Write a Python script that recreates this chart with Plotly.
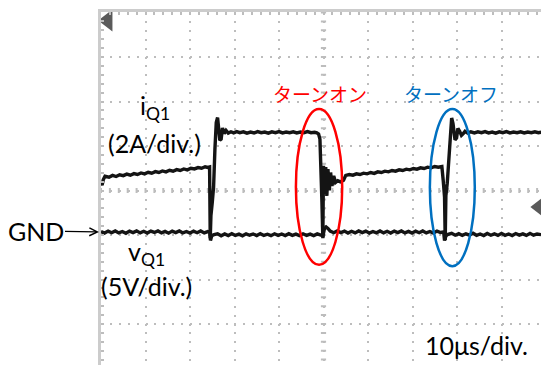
import plotly.graph_objects as go

# ---- scope settings -------------------------------------------------------
TIME_PER_DIV = 10.0          # µs/div
AMP_PER_DIV = 2.0            # A/div  (iQ1)
VOLT_PER_DIV = 5.0           # V/div  (vQ1)
I_ZERO_DIV = -0.371          # screen position of the 0 A level (div)
V_ZERO_DIV = -0.933          # screen position of GND for vQ1 (div)

# ---- iQ1 waveform (time in µs, current in A) -----------------------------
t_i = [0.0, 0.25, 0.5, 0.9, 1.8, 2.6, 3.4, 4.2, 5.0, 5.8, 6.6, 7.4, 8.2, 9.0, 9.8,
       10.6, 11.4, 12.2, 13.0, 13.8, 14.6, 15.4, 16.2, 17.0, 17.8, 18.6, 19.4, 20.2,
       21.0, 21.8, 22.6, 23.4, 24.0, 24.4,
       24.55, 24.7, 25.0, 25.3, 25.6, 25.9, 26.2, 26.45, 26.7, 27.0, 27.3, 27.7, 28.1, 28.6,
       29.2, 29.8, 30.5, 31.2, 32.0, 32.8, 33.6, 34.4, 35.2, 36.0, 36.8, 37.6, 38.4, 39.2,
       40.0, 40.8, 41.6, 42.4, 43.2, 44.0, 44.8, 45.6, 46.4, 47.2, 48.0, 48.5,
       48.9, 49.2, 49.45, 49.65, 49.85, 50.0, 50.25, 50.5, 50.75, 51.0, 51.3, 51.6, 51.9,
       52.3, 52.7, 53.2, 53.8, 54.5, 55.0,
       55.8, 56.6, 57.4, 58.2, 59.0, 59.8, 60.6, 61.4, 62.2, 63.0, 63.8, 64.6, 65.4, 66.2,
       67.0, 67.8, 68.6, 69.4, 70.2, 71.0, 71.8, 72.6, 73.4, 74.2, 75.0, 75.8, 76.4,
       76.6, 76.9, 77.2, 77.35, 77.5, 77.8, 78.2, 78.5, 78.8, 79.1, 79.55, 79.9, 80.2, 80.6,
       81.0, 81.4, 81.8, 82.4,
       83.1, 83.9, 84.7, 85.5, 86.3, 87.1, 87.9, 88.7, 89.5, 90.3, 91.1, 91.9, 92.7, 93.5,
       94.3, 95.1, 95.9, 96.7, 97.5, 98.3, 98.9]
i_q1 = [1.12, 0.98, 1.22, 1.38, 1.34, 1.42, 1.37, 1.45, 1.41, 1.48, 1.43, 1.50, 1.46, 1.53, 1.49,
        1.56, 1.52, 1.59, 1.55, 1.62, 1.58, 1.65, 1.61, 1.68, 1.64, 1.71, 1.67, 1.74,
        1.71, 1.77, 1.74, 1.81, 1.78, 1.80,
        -1.40, -0.40, 0.20, 0.90, 2.60, 3.80, 4.02, 3.60, 3.00, 3.05, 3.55, 3.30, 3.44, 3.32,
        3.38, 3.33, 3.39, 3.34, 3.38, 3.32, 3.37, 3.33, 3.39, 3.34, 3.37, 3.32, 3.38, 3.34,
        3.39, 3.33, 3.37, 3.34, 3.38, 3.33, 3.37, 3.34, 3.39, 3.34, 3.36, 3.33,
        3.28, 3.05, 1.90, 0.20, -1.40, 1.85, 0.60, 1.80, 0.50, 1.70, 0.75, 1.55, 0.95,
        1.40, 1.10, 1.18, 1.13, 1.20, 1.42,
        1.46, 1.43, 1.49, 1.46, 1.52, 1.49, 1.55, 1.51, 1.58, 1.55, 1.61, 1.58, 1.64, 1.61,
        1.67, 1.64, 1.70, 1.67, 1.73, 1.70, 1.76, 1.73, 1.79, 1.76, 1.82, 1.79, 1.84,
        1.82, 1.20, 0.45, -1.48, 0.50, 1.05, 2.20, 3.30, 4.00, 3.75, 3.02, 3.10, 3.53, 3.40,
        3.22, 3.30, 3.40, 3.32,
        3.38, 3.33, 3.38, 3.34, 3.39, 3.33, 3.37, 3.32, 3.38, 3.34, 3.39, 3.33, 3.37, 3.34,
        3.38, 3.33, 3.37, 3.34, 3.38, 3.34, 3.36]

# ---- vQ1 waveform (time in µs, voltage in V) -----------------------------
t_v = [0.0, 0.8, 1.6, 2.4, 3.2, 4.0, 4.8, 5.6, 6.4, 7.2, 8.0, 8.8, 9.6, 10.4, 11.2, 12.0,
       12.8, 13.6, 14.4, 15.2, 16.0, 16.8, 17.6, 18.4, 19.2, 20.0, 20.8, 21.6, 22.4, 23.2,
       24.0, 24.45,
       24.6, 24.9, 25.4,
       26.2, 27.0, 27.8, 28.6, 29.4, 30.2, 31.0, 31.8, 32.6, 33.4, 34.2, 35.0, 35.8, 36.6,
       37.4, 38.2, 39.0, 39.8, 40.6, 41.4, 42.2, 43.0, 43.8, 44.6, 45.4, 46.2, 47.0, 47.8,
       48.6, 49.4, 49.9,
       50.2, 50.6, 51.0, 51.5,
       52.3, 53.1, 53.9, 54.7, 55.5, 56.3, 57.1, 57.9, 58.7, 59.5, 60.3, 61.1, 61.9, 62.7,
       63.5, 64.3, 65.1, 65.9, 66.7, 67.5, 68.3, 69.1, 69.9, 70.7, 71.5, 72.3, 73.1, 73.9,
       74.7, 75.5, 76.3, 77.0,
       77.2, 77.5, 78.0,
       78.8, 79.6, 80.4, 81.2, 82.0, 82.8, 83.6, 84.4, 85.2, 86.0, 86.8, 87.6, 88.4, 89.2,
       90.0, 90.8, 91.6, 92.4, 93.2, 94.0, 94.8, 95.6, 96.4, 97.2, 98.0, 98.9]
v_q1 = [0.05, -0.12, 0.10, -0.08, 0.12, -0.10, 0.06, -0.14, 0.10, -0.06, 0.13, -0.10, 0.08,
        -0.12, 0.10, -0.05, 0.12, -0.10, 0.07, -0.13, 0.10, -0.07, 0.12, -0.10, 0.06, -0.12,
        0.10, -0.08, 0.12, -0.10, 0.05, 0.00,
        -0.95, -0.40, -0.30,
        -0.20, -0.42, -0.22, -0.40, -0.18, -0.38, -0.24, -0.42, -0.20, -0.36, -0.22, -0.40,
        -0.18, -0.38, -0.25, -0.41, -0.20, -0.37, -0.22, -0.40, -0.19, -0.38, -0.24, -0.41,
        -0.20, -0.37, -0.23, -0.40, -0.21, -0.35, -0.40,
        0.35, 0.55, 0.40, 0.10,
        -0.08, 0.12, -0.06, 0.10, -0.12, 0.08, -0.10, 0.12, -0.07, 0.10, -0.12, 0.06, -0.09,
        0.12, -0.10, 0.08, -0.12, 0.10, -0.06, 0.12, -0.10, 0.07, -0.12, 0.10, -0.08, 0.12,
        -0.10, 0.06, -0.12, 0.10, -0.06, 0.00,
        -0.95, -0.45, -0.25,
        -0.15, -0.36, -0.18, -0.38, -0.20, -0.35, -0.14, -0.37, -0.22, -0.40, -0.16, -0.36,
        -0.20, -0.38, -0.15, -0.37, -0.22, -0.39, -0.17, -0.35, -0.21, -0.38, -0.15, -0.36,
        -0.22, -0.30]

# screen positions in divisions
y_i = [a / AMP_PER_DIV + I_ZERO_DIV for a in i_q1]
y_v = [v / VOLT_PER_DIV + V_ZERO_DIV for v in v_q1]

# ---- screen geometry ------------------------------------------------------
W, H = 541, 365
L, T = 101, 12
PX_PER_DIV = 44.5
X_MAX = (W - L) / PX_PER_DIV * TIME_PER_DIV
Y_TOP = 4.0112
Y_BOT = -3.9213
X_CENTER = 5 * TIME_PER_DIV

GRID = "#bdbdbd"
FRAME = "#cccccc"
INK = "#141414"
LATIN = "Lato, 'Open Sans', sans-serif"
CJK = "'Noto Sans CJK JP', sans-serif"


def pos(xp, yp):
    """Canvas pixel -> paper coordinates."""
    return (xp - L) / (W - L), (H - yp) / (H - T)


fig = go.Figure()

fig.add_trace(go.Scatter(x=t_i, y=y_i, mode="lines",
                         line=dict(color=INK, width=3.4), hoverinfo="skip"))
fig.add_trace(go.Scatter(x=t_v, y=y_v, mode="lines",
                         line=dict(color=INK, width=3.4), hoverinfo="skip"))

# trigger-position marker (top left) and trigger-level marker (right edge)
fig.add_trace(go.Scatter(x=[1.5, 98.4], y=[3.82, I_ZERO_DIV], mode="markers",
                         marker=dict(symbol="triangle-left", size=[19, 17], color=INK,
                                     line=dict(width=0)),
                         cliponaxis=False, hoverinfo="skip"))

fig.update_layout(
    width=W, height=H,
    margin=dict(l=L, r=0, t=T, b=0),
    paper_bgcolor="white", plot_bgcolor="white",
    showlegend=False,
    xaxis=dict(range=[0, X_MAX], side="top", dtick=TIME_PER_DIV, tick0=0,
               showline=True, linecolor=FRAME, linewidth=2.5,
               ticks="inside", ticklen=3, tickwidth=2, tickcolor=GRID,
               minor=dict(dtick=TIME_PER_DIV / 5, ticks="inside", ticklen=3,
                          tickwidth=2, tickcolor=GRID, showgrid=False),
               showticklabels=False, zeroline=False,
               showgrid=True, gridcolor=GRID, gridwidth=2, griddash="2px,6.9px"),
    yaxis=dict(range=[Y_BOT, Y_TOP], dtick=1, tick0=0,
               showline=True, linecolor=FRAME, linewidth=2.5,
               ticks="inside", ticklen=3, tickwidth=2, tickcolor=GRID,
               minor=dict(dtick=0.2, ticks="inside", ticklen=3,
                          tickwidth=2, tickcolor=GRID, showgrid=False),
               showticklabels=False, zeroline=False,
               showgrid=True, gridcolor=GRID, gridwidth=2, griddash="2px,6.9px"),
)

# centre graticule: short minor-division ticks across both centre lines
half_t = 2.6 / PX_PER_DIV * TIME_PER_DIV   # tick half-length along time
half_v = 2.6 / PX_PER_DIV                  # tick half-length along divisions
segs = []
n_x = int(X_MAX / (TIME_PER_DIV / 5)) + 1
for k in range(n_x):
    t = k * TIME_PER_DIV / 5
    segs.append(f"M{t:.3f},{-half_v:.4f}L{t:.3f},{half_v:.4f}")
k = int(Y_BOT / 0.2)
while k * 0.2 <= Y_TOP:
    yv = k * 0.2
    segs.append(f"M{X_CENTER - half_t:.3f},{yv:.3f}L{X_CENTER + half_t:.3f},{yv:.3f}")
    k += 1
fig.add_shape(type="path", xref="x", yref="y", path="".join(segs),
              line=dict(color=GRID, width=2), layer="below")

# switching-event ellipses
fig.add_shape(type="circle", xref="x", yref="y", x0=43.8, x1=54.2, y0=-1.67, y1=1.83,
              line=dict(color="#ff0000", width=2.5))
fig.add_shape(type="circle", xref="x", yref="y", x0=73.9, x1=84.0, y0=-1.70, y1=1.83,
              line=dict(color="#0070c0", width=2.5))

fig.add_annotation(x=49.2, y=2.19, xref="x", yref="y", text="ターンオン", showarrow=False,
                   font=dict(family=CJK, size=19, color="#ff0000"))
fig.add_annotation(x=78.7, y=2.19, xref="x", yref="y", text="ターンオフ", showarrow=False,
                   font=dict(family=CJK, size=19, color="#0070c0"))
fig.add_annotation(x=84.4, y=-3.47, xref="x", yref="y", text="10μs/div.", showarrow=False,
                   font=dict(family=LATIN, size=25, color="black"))

# channel labels
labels = [
    ("i<sub>Q1</sub>", 155, 107),
    ("(2A/div.)", 154.5, 143),
    ("v<sub>Q1</sub>", 146, 253),
    ("(5V/div.)", 146.5, 286),
]
for text, xp, yp in labels:
    px_, py_ = pos(xp, yp)
    fig.add_annotation(x=px_, y=py_, xref="paper", yref="paper", text=text,
                       showarrow=False, xanchor="center", yanchor="middle",
                       font=dict(family=LATIN, size=25, color="black"))

# GND label with its pointer arrow to the vQ1 ground level
hx, hy = pos(100, 232)
fig.add_annotation(x=hx, y=hy, xref="paper", yref="paper", text="GND", showarrow=True,
                   ax=-64.5, ay=-1, arrowhead=5, arrowsize=1.2, arrowwidth=1.3,
                   arrowcolor="black", standoff=1,
                   font=dict(family=LATIN, size=25, color="black"))

fig.write_html("out.html")
